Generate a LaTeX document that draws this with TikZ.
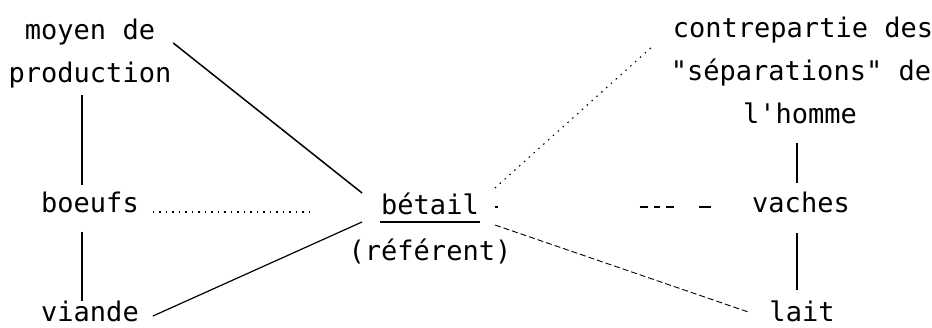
\documentclass[tikz,border=0pt]{standalone}
\usepackage{fontspec}
\setmonofont{DejaVu Sans Mono}
\usetikzlibrary{calc}
\tikzset{
  word/.style={anchor=base, inner sep=0pt, font=\ttfamily\fontsize{27}{30}\selectfont},
  solidlink/.style={line width=1.5pt},
  vlink/.style={line width=2pt},
  dotlink/.style={line width=1.1pt, dash pattern=on 1.5pt off 5pt},
  finedash/.style={line width=0.9pt, dash pattern=on 6pt off 3pt}
}
\begin{document}
\begin{tikzpicture}[x=1pt,y=-1pt]
\useasboundingbox[fill=white] (0,0) rectangle (932,328);
% left column
\node[word] (moyen) at (90,40) {moyen de};
\node[word] (prod) at (90,83) {production};
\node[word] (boeufs) at (90,213) {boeufs};
\node[word] (viande) at (90,322) {viande};
% centre
\node[word] (betail) at (430,215) {bétail};
\node[word] (referent) at (430,261) {(référent)};
% right column
\node[word] (contre) at (803,38) {contrepartie des};
\node[word] (sep) at (801,81) {"séparations" de};
\node[word] (homme) at (800,124) {l'homme};
\node[word] (vaches) at (801,213) {vaches};
\node[word] (lait) at (802,322) {lait};
% underline of betail
\draw[line width=1.4pt] ($(betail.base west)+(-1,7)$) -- ($(betail.base east)+(1,7)$);
% connectors
\draw[solidlink] ($(moyen.base east)+(18,3)$) -- ($(betail.base west)+(-19,-22)$);
\draw[vlink] ($(prod.base)+(-8,12)$) -- ($(boeufs.base)+(-8,-28)$);
\draw[vlink] ($(boeufs.base)+(-8,19)$) -- ($(viande.base)+(-8,-21)$);
\draw[dotlink] ($(boeufs.base east)+(14,-1)$) -- ($(betail.base west)+(-71,-3)$);
\draw[line width=1.2pt] ($(viande.base east)+(14,-6)$) -- ($(betail.base west)+(-19,7)$);
\draw[dotlink] ($(betail.base east)+(16,-27)$) -- ($(contre.base west)+(-21,9)$);
\draw[line width=1.1pt, dash pattern=on 3pt off 142pt on 8pt off 6pt on 6pt off 6pt on 8pt off 25pt on 12pt off 20pt]
  ($(betail.base east)+(16,-8)$) -- ($(vaches.base west)+(-22,-6)$);
\draw[finedash] ($(betail.base east)+(16,10)$) -- ($(lait.base west)+(-21,-10)$);
\draw[vlink] ($(homme.base)+(-3,19)$) -- ($(vaches.base)+(-4,-30)$);
\draw[vlink] ($(vaches.base)+(-4,20)$) -- ($(lait.base)+(-5,-32)$);
\end{tikzpicture}
\end{document}
